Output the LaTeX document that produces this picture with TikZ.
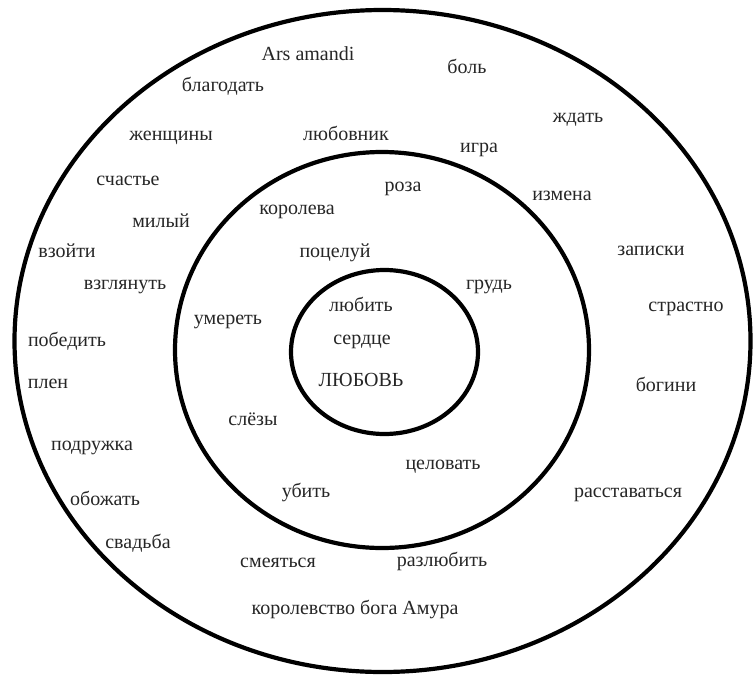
\documentclass[tikz,border=0pt]{standalone}
\usepackage{fontspec}
\setmainfont{Liberation Serif}
\begin{document}
\begin{tikzpicture}[x=1pt,y=-1pt,
  ring/.style={draw=black, line width=4.2pt},
  word/.style={text=black!85, font=\fontsize{20}{22}\selectfont, inner sep=0pt, anchor=base, yshift=-4.8pt}]
\useasboundingbox (0,0) rectangle (753,675);
\fill[white] (0,0) rectangle (753,675);
\draw[ring] (382.5,341) ellipse [x radius=368pt, y radius=331pt];
\draw[ring] (382,350) ellipse [x radius=207pt, y radius=198pt];
\draw[ring] (384.5,352) ellipse [x radius=93.5pt, y radius=82pt];
% outer ring words
\node[word] (w1) at (308,56) {Ars amandi};
\node[word] (w2) at (223,87) {благодать};
\node[word] (w3) at (171,136) {женщины};
\node[word] (w4) at (346,136) {любовник};
\node[word] (w5) at (467,69) {боль};
\node[word] (w6) at (578,118) {ждать};
\node[word] (w7) at (479,148) {игра};
\node[word] (w8) at (562,196) {измена};
\node[word] (w9) at (128,181) {счастье};
\node[word] (w10) at (161,223) {милый};
\node[word] (w11) at (651,251) {записки};
\node[word] (w12) at (67,253) {взойти};
\node[word] (w13) at (125,285) {взглянуть};
\node[word] (w14) at (686,307) {страстно};
\node[word] (w15) at (67,342) {победить};
\node[word] (w16) at (48,384) {плен};
\node[word] (w17) at (666,387) {богини};
\node[word] (w18) at (92,446) {подружка};
\node[word] (w19) at (628,493) {расставаться};
\node[word] (w20) at (105,501) {обожать};
\node[word] (w21) at (138,544) {свадьба};
\node[word] (w22) at (278,563) {смеяться};
\node[word] (w23) at (442,562) {разлюбить};
\node[word] (w24) at (355,610) {королевство бога Амура};
% middle ring words
\node[word] (m1) at (403,187) {роза};
\node[word] (m2) at (297,210) {королева};
\node[word] (m3) at (335,253) {поцелуй};
\node[word] (m4) at (489,285) {грудь};
\node[word] (m5) at (228,320) {умереть};
\node[word] (m6) at (253,421) {слёзы};
\node[word] (m7) at (443,465) {целовать};
\node[word] (m8) at (306,493) {убить};
% inner words
\node[word] (c1) at (361,307) {любить};
\node[word] (c2) at (362,340) {сердце};
\node[word] (c3) at (361,382) {ЛЮБОВЬ};
\end{tikzpicture}
\end{document}
